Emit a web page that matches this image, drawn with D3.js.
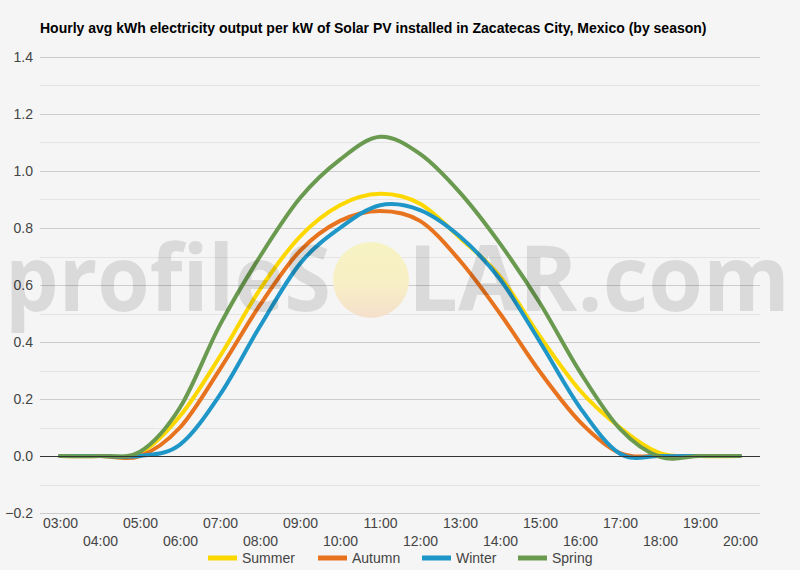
<!DOCTYPE html>
<html>
<head>
<meta charset="utf-8">
<script src="https://cdn.jsdelivr.net/npm/d3@7"></script>
<style>
  html, body { margin: 0; padding: 0; background: #f5f5f5; }
  svg { display: block; }
</style>
</head>
<body>
<div id="chart"></div>
<script>
// ---- data ----
const hours = ["03:00","04:00","05:00","06:00","07:00","08:00","09:00","10:00","11:00",
               "12:00","13:00","14:00","15:00","16:00","17:00","18:00","19:00","20:00"];
const summer = [0, 0, 0.01, 0.14, 0.35, 0.585, 0.77, 0.88, 0.92, 0.885, 0.765, 0.63, 0.42, 0.23, 0.10, 0.01, 0, 0];
const autumn = [0, 0, 0, 0.10, 0.305, 0.53, 0.72, 0.825, 0.86, 0.825, 0.685, 0.50, 0.295, 0.12, 0.01, 0, 0, 0];
const winter = [0, 0, 0, 0.04, 0.215, 0.455, 0.675, 0.80, 0.88, 0.863, 0.77, 0.62, 0.40, 0.17, 0.008, 0, 0, 0];
const spring = [0, 0, 0.015, 0.17, 0.46, 0.70, 0.905, 1.04, 1.12, 1.06, 0.924, 0.745, 0.536, 0.295, 0.095, -0.003, 0, 0];
const seriesNames = ["Summer", "Autumn", "Winter", "Spring"];
const seriesColors = ["#fdd800", "#e8731f", "#1f96c8", "#6a9a4f"];
const yTicks = [-0.2, 0, 0.2, 0.4, 0.6, 0.8, 1.0, 1.2, 1.4];
const yMinor = [-0.1, 0.1, 0.3, 0.5, 0.7, 0.9, 1.1, 1.3];
const title = "Hourly avg kWh electricity output per kW of Solar PV installed in Zacatecas City, Mexico (by season)";

const series = [summer, autumn, winter, spring].map((vals, i) => ({
  name: seriesNames[i], color: seriesColors[i], values: vals
}));

// ---- layout ----
const W = 800, H = 570;
const plotL = 40, plotR = 760, plotT = 57, plotB = 513;

const svg = d3.select("#chart").append("svg").attr("width", W).attr("height", H);
svg.append("rect").attr("width", W).attr("height", H).attr("fill", "#f5f5f5");

const x = d3.scalePoint().domain(hours).range([plotL, plotR]).padding(0.5);
const y = d3.scaleLinear().domain([-0.2, 1.4]).range([plotB, plotT]);

const font = "Arial, 'Liberation Sans', sans-serif";

// title
svg.append("text").attr("x", 40).attr("y", 33)
  .attr("font-family", font).attr("font-size", 14).attr("font-weight", "bold")
  .attr("fill", "#000").text(title);

// minor gridlines
svg.append("g").selectAll("line").data(yMinor).join("line")
  .attr("x1", plotL).attr("x2", plotR)
  .attr("y1", d => Math.round(y(d)) + 0.5).attr("y2", d => Math.round(y(d)) + 0.5)
  .attr("stroke", "#e4e4e4").attr("stroke-width", 1);

// major gridlines
svg.append("g").selectAll("line").data(yTicks.filter(d => d !== 0)).join("line")
  .attr("x1", plotL).attr("x2", plotR)
  .attr("y1", d => Math.round(y(d)) + 0.5).attr("y2", d => Math.round(y(d)) + 0.5)
  .attr("stroke", "#cccccc").attr("stroke-width", 1);

// y axis labels
const yAxis = d3.axisLeft(y).tickValues(yTicks).tickSize(0).tickPadding(0)
  .tickFormat(d3.format(".1f"));
const gy = svg.append("g").attr("transform", `translate(33,0)`).call(yAxis);
gy.select(".domain").remove();
gy.selectAll("text").attr("font-family", font).attr("font-size", 14).attr("fill", "#444");

// x axis labels (alternating rows)
const xAxis = d3.axisBottom(x).tickSize(0).tickPadding(0);
const gx = svg.append("g").attr("transform", `translate(0,${plotB})`).call(xAxis);
gx.select(".domain").remove();
gx.selectAll("text")
  .attr("font-family", font).attr("font-size", 14).attr("fill", "#444")
  .attr("dy", null)
  .attr("y", (d, i) => i % 2 === 0 ? 15 : 33);

// lines
const line = d3.line()
  .x((d, i) => x(hours[i]))
  .y(d => y(d))
  .curve(d3.curveCardinal.tension(0));

svg.append("g").selectAll("path").data(series).join("path")
  .attr("d", s => line(s.values))
  .attr("fill", "none")
  .attr("stroke", s => s.color)
  .attr("stroke-width", 4)
  .attr("stroke-linejoin", "round")
  .attr("stroke-linecap", "round");

// zero line
svg.append("line").attr("x1", plotL).attr("x2", plotR)
  .attr("y1", Math.round(y(0)) + 0.5).attr("y2", Math.round(y(0)) + 0.5)
  .attr("stroke", "#333").attr("stroke-width", 1);

// watermark
const defs = svg.append("defs");
const grad = defs.append("linearGradient").attr("id", "sun").attr("x1", 0).attr("y1", 0).attr("x2", 0).attr("y2", 1);
grad.append("stop").attr("offset", "0%").attr("stop-color", "#f7f3c2");
grad.append("stop").attr("offset", "55%").attr("stop-color", "#f7efc6");
grad.append("stop").attr("offset", "100%").attr("stop-color", "#f5dfcb");

const wm = svg.append("g").attr("pointer-events", "none");
wm.append("circle").attr("cx", 371).attr("cy", 280).attr("r", 38).attr("fill", "url(#sun)");
wm.append("text").attr("x", 5).attr("y", 311)
  .attr("font-family", "'Open Sans', sans-serif").attr("font-weight", "bold").attr("font-size", 92)
  .attr("textLength", 326).attr("lengthAdjust", "spacingAndGlyphs")
  .attr("fill", "#000").attr("fill-opacity", 0.11).text("profileS");
wm.append("text").attr("x", 408).attr("y", 311)
  .attr("font-family", "'Open Sans', sans-serif").attr("font-weight", "bold").attr("font-size", 92)
  .attr("textLength", 382).attr("lengthAdjust", "spacingAndGlyphs")
  .attr("fill", "#000").attr("fill-opacity", 0.11).text("LAR.com");

// legend
const legendX = [208, 318, 422, 518];
const lg = svg.append("g");
series.forEach((s, i) => {
  lg.append("line").attr("x1", legendX[i]).attr("x2", legendX[i] + 29)
    .attr("y1", 558).attr("y2", 558).attr("stroke", s.color).attr("stroke-width", 5);
  lg.append("text").attr("x", legendX[i] + 34).attr("y", 563)
    .attr("font-family", font).attr("font-size", 14).attr("fill", "#444").text(s.name);
});
</script>
</body>
</html>
